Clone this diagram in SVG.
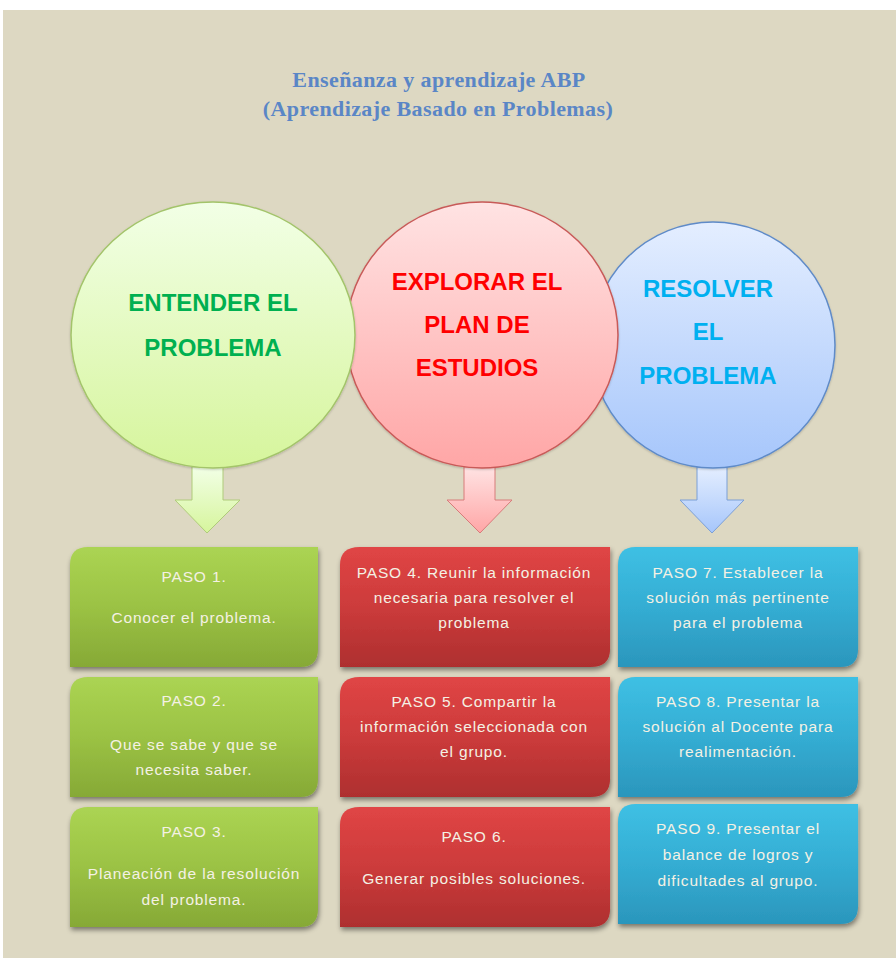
<svg xmlns="http://www.w3.org/2000/svg" width="896" height="958" viewBox="0 0 896 958">
<defs>
<linearGradient id="gC" x1="0" y1="0" x2="0" y2="1"><stop offset="0" stop-color="#F2FFE6"/><stop offset="1" stop-color="#D6F59C"/></linearGradient>
<linearGradient id="rC" x1="0" y1="0" x2="0" y2="1"><stop offset="0" stop-color="#FFE3E3"/><stop offset="1" stop-color="#FFA6A6"/></linearGradient>
<linearGradient id="bC" x1="0" y1="0" x2="0" y2="1"><stop offset="0" stop-color="#E4EEFF"/><stop offset="1" stop-color="#A6C6FB"/></linearGradient>
<linearGradient id="gB" x1="0" y1="0" x2="0" y2="1"><stop offset="0" stop-color="#ABD453"/><stop offset="0.5" stop-color="#9BC244"/><stop offset="1" stop-color="#86A936"/></linearGradient>
<linearGradient id="rB" x1="0" y1="0" x2="0" y2="1"><stop offset="0" stop-color="#E04545"/><stop offset="0.5" stop-color="#CC3B3B"/><stop offset="1" stop-color="#AE2F2F"/></linearGradient>
<linearGradient id="bB" x1="0" y1="0" x2="0" y2="1"><stop offset="0" stop-color="#3EC0E4"/><stop offset="0.5" stop-color="#34ADD3"/><stop offset="1" stop-color="#2B96BC"/></linearGradient>
<filter id="sh" x="-10%" y="-10%" width="125%" height="130%"><feDropShadow dx="1" dy="3" stdDeviation="2.5" flood-color="#000" flood-opacity="0.45"/></filter>
<filter id="csh" x="-10%" y="-10%" width="120%" height="120%"><feDropShadow dx="0" dy="1" stdDeviation="1" flood-color="#000" flood-opacity="0.2"/></filter>
<path id="box" d="M18 0 H248 V102 Q248 120 230 120 H0 V18 Q0 0 18 0 Z"/>
</defs>
<style>
.title{font-family:"Liberation Serif",serif;font-weight:bold;font-size:22px;letter-spacing:0.4px;fill:#5A86C6;text-anchor:middle}
.ct{font-family:"Liberation Sans",Arial,sans-serif;font-weight:bold;font-size:24px;text-anchor:middle}
.bt{font-family:"Liberation Sans",Arial,sans-serif;font-size:15.5px;letter-spacing:0.85px;fill:#F4F1E4;text-anchor:middle}
</style>
<rect x="0" y="0" width="896" height="958" fill="#FFFFFF"/>
<rect x="3" y="10" width="893" height="948" fill="#DDD8C2"/>
<g id="title">
<text class="title" x="439" y="87">Enseñanza y aprendizaje ABP</text>
<text class="title" x="438" y="116">(Aprendizaje Basado en Problemas)</text>
</g>
<g id="connectors">
<path d="M697 467 H727 V500 H744 L712 533 L680 500 H697 Z" fill="url(#bC)" stroke="#7B9FD6" stroke-width="1"/>
<path d="M464 467 H495 V500 H512 L480 533 L447 500 H464 Z" fill="url(#rC)" stroke="#D77C7A" stroke-width="1"/>
<path d="M192 467 H223 V500 H240 L207 533 L175 500 H192 Z" fill="url(#gC)" stroke="#AFCB7A" stroke-width="1"/>
</g>
<g id="circle-resolver">
<ellipse cx="713" cy="345" rx="122" ry="123" fill="url(#bC)" stroke="#5F8BC8" stroke-width="1.5" filter="url(#csh)"/>
<text class="ct" x="708" y="297" fill="#00B0F0">RESOLVER</text>
<text class="ct" x="708" y="340" fill="#00B0F0">EL</text>
<text class="ct" x="708" y="384" fill="#00B0F0">PROBLEMA</text>
</g>
<g id="circle-explorar">
<ellipse cx="482" cy="335" rx="136" ry="133" fill="url(#rC)" stroke="#C85A58" stroke-width="1.5" filter="url(#csh)"/>
<text class="ct" x="477" y="290" fill="#FF0000">EXPLORAR EL</text>
<text class="ct" x="477" y="333" fill="#FF0000">PLAN DE</text>
<text class="ct" x="477" y="376" fill="#FF0000">ESTUDIOS</text>
</g>
<g id="circle-entender">
<ellipse cx="213" cy="335" rx="142" ry="133" fill="url(#gC)" stroke="#A3C46A" stroke-width="1.5" filter="url(#csh)"/>
<text class="ct" x="213" y="311" fill="#00B050">ENTENDER EL</text>
<text class="ct" x="213" y="356" fill="#00B050">PROBLEMA</text>
</g>
<g id="paso1" transform="translate(70,547)">
<use href="#box" fill="url(#gB)" filter="url(#sh)"/>
<text class="bt" x="124" y="35">PASO 1.</text>
<text class="bt" x="124" y="76">Conocer el problema.</text>
</g>
<g id="paso2" transform="translate(70,677)">
<use href="#box" fill="url(#gB)" filter="url(#sh)"/>
<text class="bt" x="124" y="29">PASO 2.</text>
<text class="bt" x="124" y="73">Que se sabe y que se</text>
<text class="bt" x="124" y="98">necesita saber.</text>
</g>
<g id="paso3" transform="translate(70,807)">
<use href="#box" fill="url(#gB)" filter="url(#sh)"/>
<text class="bt" x="124" y="30">PASO 3.</text>
<text class="bt" x="124" y="72">Planeación de la resolución</text>
<text class="bt" x="124" y="98">del problema.</text>
</g>
<g id="paso4" transform="translate(340,547) scale(1.089,1)">
<use href="#box" fill="url(#rB)" filter="url(#sh)"/>
</g>
<g id="paso4t">
<text class="bt" x="474" y="578">PASO 4. Reunir la información</text>
<text class="bt" x="474" y="603">necesaria para resolver el</text>
<text class="bt" x="474" y="628">problema</text>
</g>
<g id="paso5" transform="translate(340,677) scale(1.089,1)">
<use href="#box" fill="url(#rB)" filter="url(#sh)"/>
</g>
<g id="paso5t">
<text class="bt" x="474" y="707">PASO 5. Compartir la</text>
<text class="bt" x="474" y="732">información seleccionada con</text>
<text class="bt" x="474" y="757">el grupo.</text>
</g>
<g id="paso6" transform="translate(340,807) scale(1.089,1)">
<use href="#box" fill="url(#rB)" filter="url(#sh)"/>
</g>
<g id="paso6t">
<text class="bt" x="474" y="842">PASO 6.</text>
<text class="bt" x="474" y="884">Generar posibles soluciones.</text>
</g>
<g id="paso7" transform="translate(618,547) scale(0.968,1)">
<use href="#box" fill="url(#bB)" filter="url(#sh)"/>
</g>
<g id="paso7t">
<text class="bt" x="738" y="578">PASO 7. Establecer la</text>
<text class="bt" x="738" y="603">solución más pertinente</text>
<text class="bt" x="738" y="628">para el problema</text>
</g>
<g id="paso8" transform="translate(618,677) scale(0.968,1)">
<use href="#box" fill="url(#bB)" filter="url(#sh)"/>
</g>
<g id="paso8t">
<text class="bt" x="738" y="707">PASO 8. Presentar la</text>
<text class="bt" x="738" y="732">solución al Docente para</text>
<text class="bt" x="738" y="757">realimentación.</text>
</g>
<g id="paso9" transform="translate(618,804) scale(0.968,1)">
<use href="#box" fill="url(#bB)" filter="url(#sh)"/>
</g>
<g id="paso9t">
<text class="bt" x="738" y="834">PASO 9. Presentar el</text>
<text class="bt" x="738" y="860">balance de logros y</text>
<text class="bt" x="738" y="886">dificultades al grupo.</text>
</g>
</svg>
